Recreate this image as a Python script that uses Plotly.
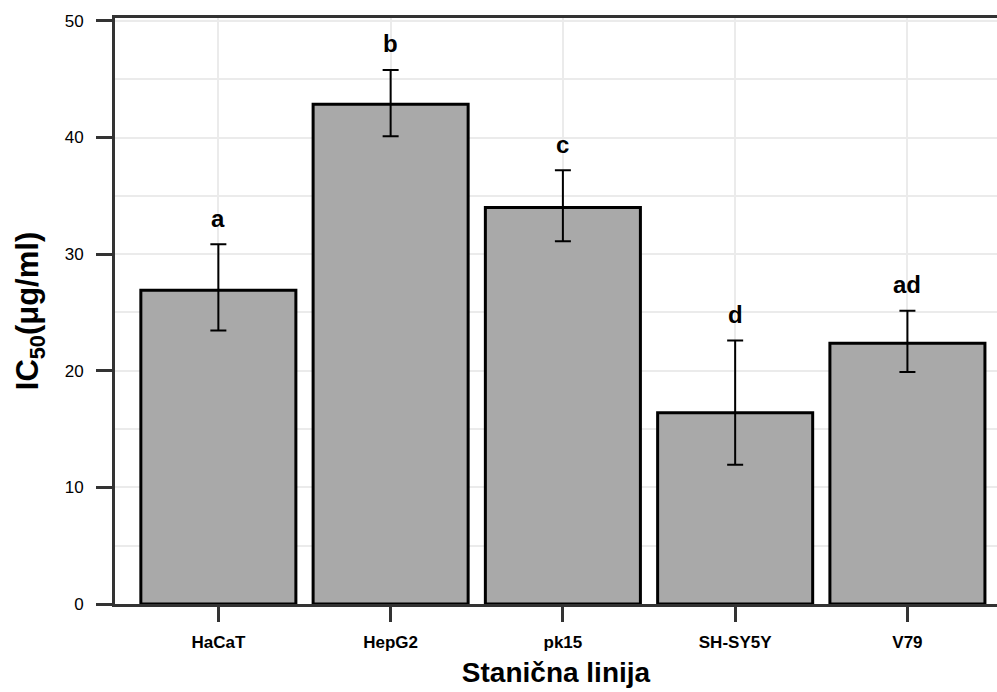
import plotly.graph_objects as go

categories = ["HaCaT", "HepG2", "pk15", "SH-SY5Y", "V79"]
ic50_mean = [26.9, 42.85, 34.0, 16.4, 22.35]
err_plus = [3.95, 2.95, 3.2, 6.2, 2.8]
err_minus = [3.45, 2.75, 2.9, 4.45, 2.45]
group_letters = ["a", "b", "c", "d", "ad"]

FONT = "Liberation Sans, Arial, sans-serif"
AXIS_COL = "#333333"
GRID_COL = "#EBEBEB"

fig = go.Figure()
fig.add_trace(go.Bar(
    x=categories, y=ic50_mean, width=0.9,
    marker=dict(color="#A9A9A9", line=dict(color="black", width=3)),
    error_y=dict(type="data", symmetric=False, array=err_plus, arrayminus=err_minus,
                 color="black", thickness=2, width=8),
    showlegend=False,
))

for c, m, p, lab in zip(categories, ic50_mean, err_plus, group_letters):
    fig.add_annotation(x=c, y=m + p, text=f"<b>{lab}</b>", showarrow=False,
                       xref="x", yref="y", yanchor="middle", yshift=26,
                       font=dict(family=FONT, size=24, color="black"))

fig.update_layout(
    width=997, height=692,
    margin=dict(l=115, r=0, t=18, b=88),
    plot_bgcolor="white", paper_bgcolor="white",
    font=dict(family=FONT, color="black"),
    xaxis=dict(
        range=[-0.6, 4.52], showline=True, linecolor=AXIS_COL, linewidth=3, mirror=True,
        ticks="outside", ticklen=15, tickwidth=2.5, tickcolor=AXIS_COL,
        showgrid=True, gridcolor=GRID_COL, gridwidth=2,
        tickfont=dict(family=FONT, size=17, color="black", weight="bold"),
        ticklabelstandoff=6,
        title=dict(text="<b>Stanična linija</b>", font=dict(family=FONT, size=28, color="black"),
                   standoff=11),
    ),
    yaxis=dict(
        range=[0, 50.25], showline=True, linecolor=AXIS_COL, linewidth=3,
        ticks="outside", ticklen=16, tickwidth=2.5, tickcolor=AXIS_COL,
        tickvals=[0, 10, 20, 30, 40, 50],
        showgrid=True, gridcolor=GRID_COL, gridwidth=2, zeroline=False,
        minor=dict(tickvals=[5, 15, 25, 35, 45], showgrid=True, gridcolor=GRID_COL, gridwidth=2, ticks=""),
        tickfont=dict(family=FONT, size=17, color="black"),
        ticklabelstandoff=9,
        title=dict(text="<b>IC<sub>50</sub>(μg/ml)</b>", font=dict(family=FONT, size=31, color="black"),
                   standoff=17),
    ),
)

fig.write_html("out.html")
